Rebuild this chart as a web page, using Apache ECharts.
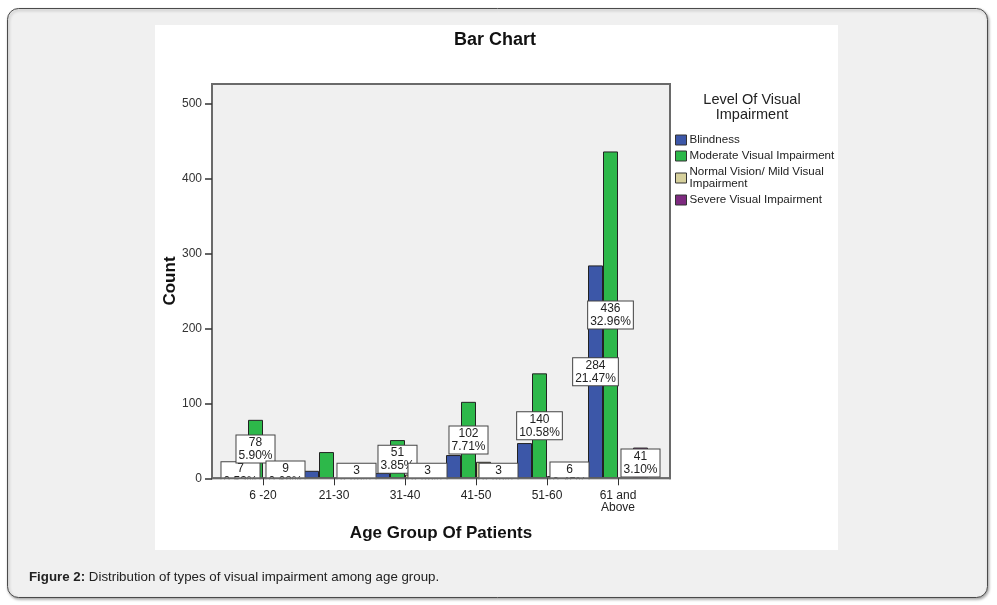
<!DOCTYPE html>
<html>
<head>
<meta charset="utf-8">
<script src="https://cdn.jsdelivr.net/npm/echarts@6/dist/echarts.min.js"></script>
<style>
html,body{margin:0;padding:0;background:#ffffff;}
#c{width:997px;height:605px;}
</style>
</head>
<body>
<div id="c"></div>
<script>
// ---- data ----
var categories = ['6 -20', '21-30', '31-40', '41-50', '51-60', '61 and\nAbove'];
var blindness = [7, 10, 7, 31, 47, 284];
var moderate = [78, 35, 51, 102, 140, 436];
var normalMild = [0, 0, 5, 22, 3, 0];
var severe = [9, 3, 3, 3, 6, 41];
// which bars carry a value label in the reference
var blindnessLabeled = [1, 0, 0, 0, 0, 1];
var moderateLabeled = [1, 0, 1, 1, 1, 1];
var normalLabeled = [0, 0, 0, 0, 0, 0];
var severeLabeled = [1, 1, 1, 1, 1, 1];
var totalN = 1323;
var yTicks = [0, 100, 200, 300, 400, 500];
var seriesNames = ['Blindness', 'Moderate Visual Impairment', 'Normal Vision/ Mild Visual\nImpairment', 'Severe Visual Impairment'];
var seriesColors = ['#3c57a8', '#2db84a', '#d6d09c', '#7d2a7f'];

var FONT = '"Liberation Sans", Arial, sans-serif';
var GRID_LEFT = 227.5, GRID_W = 426, GRID_TOP = 84, GRID_H = 394.3;
var PLOT_L = 212, PLOT_R = 670;
var BASE = GRID_TOP + GRID_H;

function buildData(values, flags) {
  return values.map(function (v, i) {
    return {
      value: v,
      label: { show: !!flags[i] }
    };
  });
}

var labelStyle = {
  position: 'inside',
  formatter: function (p) {
    return p.value + '\n' + (p.value / totalN * 100).toFixed(2) + '%';
  },
  fontFamily: FONT,
  fontSize: 12,
  lineHeight: 13,
  color: '#222',
  backgroundColor: '#ffffff',
  borderColor: '#444',
  borderWidth: 1,
  padding: [1, 2, 0, 2],
  align: 'center'
};

var valueArrays = [blindness, moderate, normalMild, severe];
var flagArrays = [blindnessLabeled, moderateLabeled, normalLabeled, severeLabeled];

var series = valueArrays.map(function (arr, k) {
  return {
    name: seriesNames[k],
    type: 'bar',
    barWidth: 15,
    barGap: '0%',
    z: 2,
    itemStyle: { color: seriesColors[k], borderColor: '#222', borderWidth: 1 },
    label: labelStyle,
    emphasis: { disabled: true },
    data: buildData(arr, flagArrays[k])
  };
});

var chart = echarts.init(document.getElementById('c'), null, { renderer: 'canvas' });
chart.setOption({
  animation: false,
  backgroundColor: 'transparent',
  textStyle: { fontFamily: FONT },
  title: [{
    text: 'Bar Chart',
    left: 490, top: 26, textAlign: 'center',
    textStyle: { fontFamily: FONT, fontSize: 18, fontWeight: 'bold', color: '#111' }
  }],
  graphic: {
    elements: [
      { type: 'rect', z: -5, silent: true,
        shape: { x: 7.5, y: 8.5, width: 980, height: 589, r: 11 },
        style: { fill: '#f0f0f0', stroke: '#4a4a4a', lineWidth: 1, shadowBlur: 3, shadowOffsetX: 1, shadowOffsetY: 1.5, shadowColor: 'rgba(0,0,0,0.35)' } },
      { type: 'rect', z: -4, silent: true,
        shape: { x: 155, y: 25, width: 683, height: 525 },
        style: { fill: '#ffffff' } },
      { type: 'rect', z: -3, silent: true,
        shape: { x: PLOT_L, y: GRID_TOP, width: PLOT_R - PLOT_L, height: GRID_H },
        style: { fill: '#f0f0f0', stroke: '#6a6a6a', lineWidth: 2 } },
      // white strip under the axis: labels are clipped at the plot bottom
      { type: 'rect', z: 5, silent: true,
        shape: { x: PLOT_L + 1, y: BASE + 1, width: PLOT_R - PLOT_L - 2, height: 15 },
        style: { fill: '#ffffff' } },
      { type: 'line', z: 6, silent: true,
        shape: { x1: PLOT_L - 1, y1: BASE, x2: PLOT_R + 1, y2: BASE },
        style: { stroke: '#6a6a6a', lineWidth: 2 } },
      { type: 'text', z: 6, silent: true,
        x: 752, y: 107.5,
        style: { text: 'Level Of Visual\nImpairment', font: '14.5px ' + FONT, fill: '#222', align: 'center', verticalAlign: 'middle', lineHeight: 15 } },
      { type: 'text', z: 6, silent: true,
        x: 170, y: 281, rotation: Math.PI / 2,
        style: { text: 'Count', font: 'bold 17px ' + FONT, fill: '#111', align: 'center', verticalAlign: 'middle' } },
      { type: 'text', z: 6, silent: true,
        x: 441, y: 533,
        style: { text: 'Age Group Of Patients', font: 'bold 17px ' + FONT, fill: '#111', align: 'center', verticalAlign: 'middle' } },
      { type: 'text', z: 6, silent: true,
        x: 29, y: 577,
        style: {
          text: '{b|Figure 2:} Distribution of types of visual impairment among age group.',
          font: '13.3px ' + FONT, fill: '#222', verticalAlign: 'middle',
          rich: { b: { fontWeight: 'bold', fontSize: 13.3, fontFamily: FONT, fill: '#222' } }
        } }
    ]
  },
  legend: {
    orient: 'vertical',
    left: 670, top: 129,
    itemWidth: 11, itemHeight: 10, itemGap: 4,
    icon: 'rect',
    selectedMode: false,
    itemStyle: { borderColor: '#333', borderWidth: 1 },
    textStyle: { fontFamily: FONT, fontSize: 11.6, lineHeight: 12, color: '#222', padding: [0, 0, 0, -2] },
    data: seriesNames
  },
  grid: { left: GRID_LEFT, top: GRID_TOP, width: GRID_W, height: GRID_H, containLabel: false },
  xAxis: {
    type: 'category',
    data: categories,
    z: 10,
    axisLine: { show: false },
    axisTick: { show: true, alignWithLabel: true, length: 7, lineStyle: { color: '#333', width: 1 } },
    axisLabel: { fontFamily: FONT, fontSize: 12, color: '#222', margin: 11, lineHeight: 12 },
    splitLine: { show: false }
  },
  yAxis: {
    type: 'value',
    min: 0, max: 526, interval: 100,
    offset: GRID_LEFT - PLOT_L,
    z: 10,
    axisLine: { show: false },
    axisTick: { show: true, length: 7, lineStyle: { color: '#333', width: 1.5 }, customValues: yTicks },
    axisLabel: { fontFamily: FONT, fontSize: 12, color: '#333', margin: 10, customValues: yTicks },
    splitLine: { show: false }
  },
  series: series
});
</script>
</body>
</html>
